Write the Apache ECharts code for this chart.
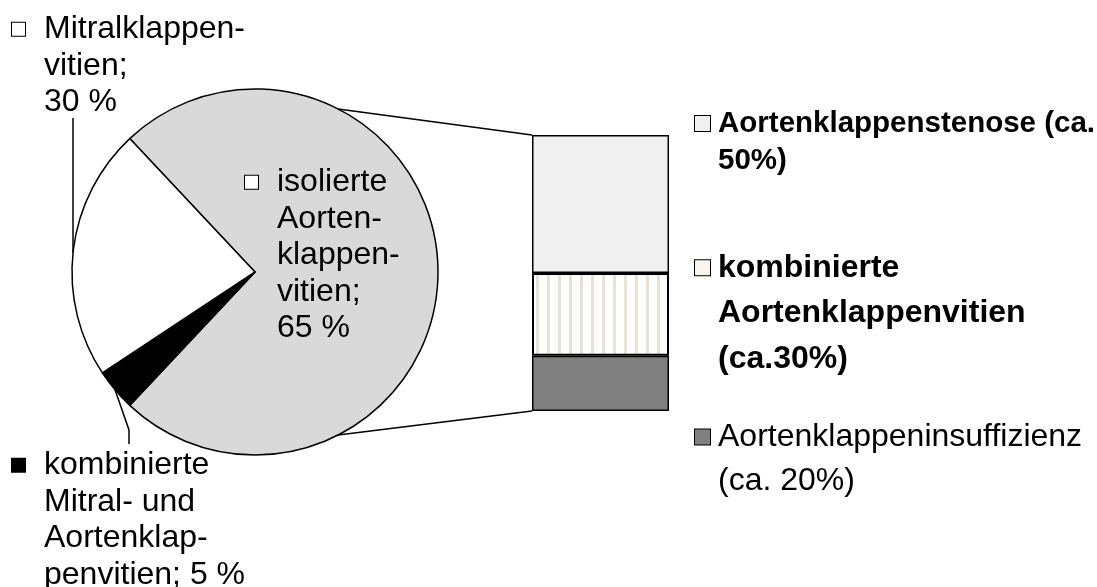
<!DOCTYPE html>
<html>
<head>
<meta charset="utf-8">
<script src="https://cdn.jsdelivr.net/npm/echarts@6/dist/echarts.min.js"></script>
<style>
  html, body { margin: 0; padding: 0; background: #fff; }
  #chart { width: 1097px; height: 587px; }
</style>
</head>
<body>
<div id="chart"></div>
<script>
// pie slices (angles as drawn in the picture), clockwise from the grey slice
const pieNames = ["isolierte Aortenklappenvitien", "kombinierte Mitral- und Aortenklappenvitien", "Mitralklappenvitien"];
const pieValues = [74, 3.7, 22.3];
const pieColors = ["#d9d9d9", "#000000", "#ffffff"];
const pieLabels = [
  ["isolierte", "Aorten-", "klappen-", "vitien;", "65 %"],
  ["kombinierte", "Mitral- und", "Aortenklap-", "penvitien; 5 %"],
  ["Mitralklappen-", "vitien;", "30 %"]
];

// bar of the grey slice, bottom to top
const barNames = ["Aortenklappeninsuffizienz", "kombinierte Aortenklappenvitien", "Aortenklappenstenose"];
const barValues = [20, 30, 50];
const barLabels = [
  ["Aortenklappeninsuffizienz", "(ca. 20%)"],
  ["kombinierte", "Aortenklappenvitien", "(ca.30%)"],
  ["Aortenklappenstenose (ca.", "50%)"]
];
const barBold = [false, true, true];

const PIE = { cx: 255, cy: 272, r: 183, start: 133.2 };
const BAR = { left: 532, top: 135, width: 137, height: 276 };
const FONT = "Liberation Sans, Arial, sans-serif";

// stripe fill for the middle bar segment
const stripe = document.createElement("canvas");
stripe.width = 11; stripe.height = 8;
const sctx = stripe.getContext("2d");
sctx.fillStyle = "#ffffff"; sctx.fillRect(0, 0, 11, 8);
sctx.fillStyle = "#e8e3d2"; sctx.fillRect(8, 0, 3, 8);
const barColors = ["#808080", { image: stripe, repeat: "repeat" }, "#f0f0f0"];
const markColors = ["#808080", "#f8f6ee", "#f0f0f0"];

const piePoint = (deg) => {
  // deg: clockwise from 12 o'clock
  const a = deg * Math.PI / 180;
  return [PIE.cx + PIE.r * Math.sin(a), PIE.cy - PIE.r * Math.cos(a)];
};
const total = pieValues.reduce((a, b) => a + b, 0);
const midDeg = (i) => {
  const before = pieValues.slice(0, i).reduce((a, b) => a + b, 0);
  return (90 - PIE.start) + (before + pieValues[i] / 2) / total * 360;
};

const makeRich = (fs, lh, box, gap, ind) => ({
  t: { fontSize: fs, lineHeight: lh, fontFamily: FONT, color: "#000" },
  b: { fontSize: fs, lineHeight: lh, fontFamily: FONT, color: "#000", fontWeight: "bold" },
  gap: { width: gap },
  ind: { width: ind },
  box: box
});
const boxStyle = (fill, size) => ({ width: size, height: size, borderColor: "#000", borderWidth: 1, backgroundColor: fill });

const labelText = (lines, style) =>
  lines.map((l, i) => (i === 0 ? "{box|}{gap|}" : "{ind|}") + `{${style}|${l}}`).join("\n");

// label anchors (top-left of text block)
const pieLabelPos = [[245, 164], [12, 447], [12, 11]];
const pieBoxFill = ["#fff", "#000", "#fff"];
const barLabelPos = [[695, 415], [695, 245], [695, 105]];
const barFontSizes = [32, 32, 29.5];
const barLineHeights = [44, 45.5, 37];

// leader line from the white slice edge straight up to its label
const mitralX = 73;
const mitralEdge = [mitralX, PIE.cy - Math.sqrt(PIE.r * PIE.r - (mitralX - PIE.cx) ** 2)];
const blackEdge = piePoint(midDeg(1));
const pieLines = [
  null,
  [blackEdge, [129, 430], [129, 444]],
  [mitralEdge, [mitralX, 180], [mitralX, 118]]
];

const pieData = pieNames.map((n, i) => ({
  name: n,
  value: pieValues[i],
  itemStyle: { color: pieColors[i] },
  label: {
    formatter: labelText(pieLabels[i], "t"),
    position: i === 0 ? "inside" : "outside",
    overflow: "none",
    rich: makeRich(32, 36.5, boxStyle(pieBoxFill[i], 13), 19, 32)
  },
  labelLine: { show: i !== 0 }
}));

const barSeries = barNames.map((n, i) => ({
  type: "bar",
  name: n,
  stack: "s",
  barWidth: "100%",
  data: [barValues[i]],
  itemStyle: { color: barColors[i], borderColor: "#000", borderWidth: i === 1 ? 2 : 1.5 },
  label: {
    show: true,
    position: "right",
    overflow: "none",
    formatter: labelText(barLabels[i], barBold[i] ? "b" : "t"),
    rich: makeRich(barFontSizes[i], barLineHeights[i], boxStyle(markColors[i], 15), 8, 23)
  },
  labelLayout: () => ({ x: barLabelPos[i][0], y: barLabelPos[i][1], align: "left", verticalAlign: "top" })
}));

const topEdge = piePoint(27), botEdge = piePoint(153);

const chart = echarts.init(document.getElementById("chart"), null, { renderer: "canvas" });
chart.setOption({
  animation: false,
  grid: { left: BAR.left, top: BAR.top, width: BAR.width, height: BAR.height },
  xAxis: { type: "category", data: ["Aortenklappenvitien"], show: false },
  yAxis: { type: "value", min: 0, max: 100, show: false },
  series: [
    {
      type: "pie",
      center: [PIE.cx, PIE.cy],
      radius: PIE.r,
      startAngle: PIE.start,
      clockwise: true,
      data: pieData,
      itemStyle: { borderColor: "#000", borderWidth: 1.5 },
      emphasis: { disabled: true },
      label: { show: true, fontFamily: FONT, fontSize: 32, color: "#000", overflow: "none" },
      labelLine: { lineStyle: { color: "#000", width: 1.5 }, smooth: false },
      labelLayout: (p) => {
        const i = p.dataIndex;
        const out = { x: pieLabelPos[i][0], y: pieLabelPos[i][1], align: "left", verticalAlign: "top" };
        if (pieLines[i]) out.labelLinePoints = pieLines[i];
        return out;
      }
    },
    ...barSeries
  ],
  graphic: [
    { type: "line", shape: { x1: topEdge[0], y1: topEdge[1], x2: BAR.left, y2: BAR.top }, style: { stroke: "#000", lineWidth: 1.5 } },
    { type: "line", shape: { x1: botEdge[0], y1: botEdge[1], x2: BAR.left, y2: BAR.top + BAR.height }, style: { stroke: "#000", lineWidth: 1.5 } }
  ]
});
</script>
</body>
</html>
